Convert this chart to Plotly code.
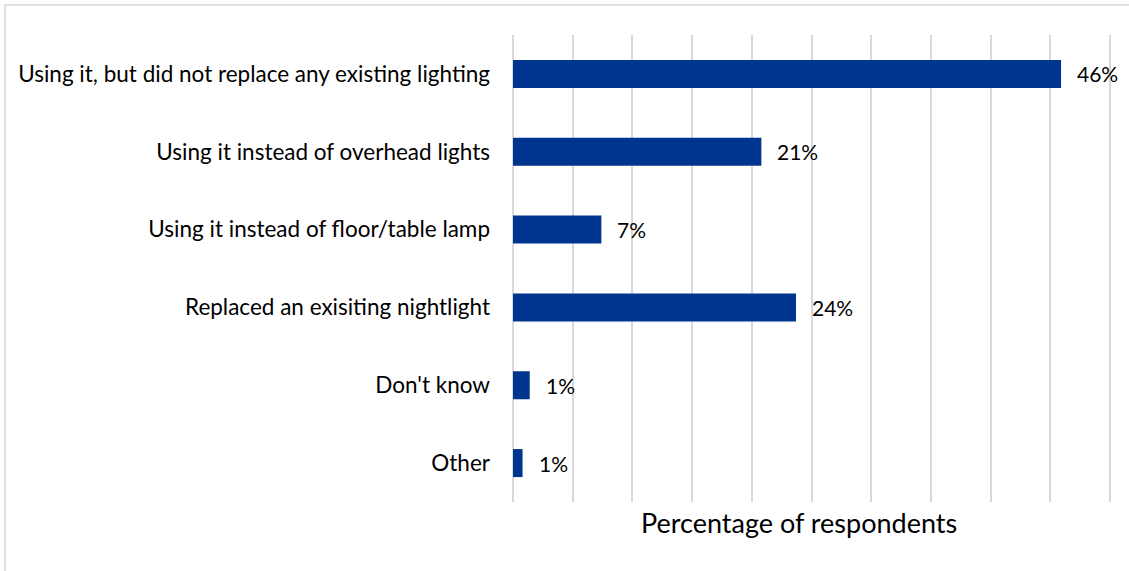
import plotly.graph_objects as go

# Survey responses: how the nightlight is being used
categories = [
    "Using it, but did not replace any existing lighting",
    "Using it instead of overhead lights",
    "Using it instead of floor/table lamp",
    "Replaced an exisiting nightlight",
    "Don't know",
    "Other",
]
percentages = [45.9, 20.8, 7.4, 23.7, 1.4, 0.8]
x_title = "Percentage of respondents"

W, H = 1129, 571
X_MAX = 50
X_PAD = 0.5                      # small overshoot so the 50% gridline is drawn
GRID_END_PX = 1110               # pixel where the 50% gridline sits
M_L, M_T, M_B = 513, 35, 69
plot_w = (GRID_END_PX - M_L) * (X_MAX + X_PAD) / X_MAX
M_R = W - M_L - plot_w
plot_h = H - M_T - M_B

BAR_COLOR = "#00358F"
GRID_COLOR = "#D9D9D9"
FONT = "Lato, 'Open Sans', sans-serif"

fig = go.Figure(
    go.Bar(
        x=percentages,
        y=categories,
        orientation="h",
        marker=dict(color=BAR_COLOR, line=dict(width=0)),
        width=0.36,
        hoverinfo="skip",
    )
)

# Value labels placed just past the end of each bar
for cat, val in zip(categories, percentages):
    fig.add_annotation(
        x=val, y=cat, xref="x", yref="y",
        text=f"{val:.0f}%", showarrow=False,
        xanchor="left", xshift=14,
        font=dict(family=FONT, size=21, color="#000000"),
    )

# Axis title below the plot area
fig.add_annotation(
    x=(799 - M_L) / plot_w, y=-(522 - (M_T + plot_h)) / plot_h,
    xref="paper", yref="paper", text=x_title, showarrow=False,
    xanchor="center", yanchor="middle",
    font=dict(family=FONT, size=27, color="#000000"),
)

# Light outer frame of the chart (left and top edges fall inside the page)
fx0 = (5 - M_L) / plot_w
fx1 = (W + 40 - M_L) / plot_w
fy1 = 1 + (M_T - 5) / plot_h
fy0 = -(M_B + 40) / plot_h
fig.add_shape(type="rect", xref="paper", yref="paper",
              x0=fx0, x1=fx1, y0=fy0, y1=fy1,
              line=dict(color=GRID_COLOR, width=1.5), layer="below")

fig.update_layout(
    width=W, height=H,
    margin=dict(l=M_L, r=M_R, t=M_T, b=M_B, pad=0),
    paper_bgcolor="white",
    plot_bgcolor="white",
    showlegend=False,
    font=dict(family=FONT, size=21, color="#000000"),
    xaxis=dict(
        range=[0, X_MAX + X_PAD],
        dtick=5,
        tick0=0,
        showgrid=True,
        gridcolor=GRID_COLOR,
        gridwidth=2,
        showticklabels=False,
        zeroline=True,
        zerolinecolor=GRID_COLOR,
        zerolinewidth=2,
        showline=False,
        ticks="",
        fixedrange=True,
    ),
    yaxis=dict(
        autorange="reversed",
        showgrid=False,
        zeroline=False,
        showline=False,
        ticks="",
        ticklabelstandoff=22,
        tickfont=dict(family=FONT, size=22.5, color="#000000"),
        fixedrange=True,
    ),
)

fig.write_html("out.html")
